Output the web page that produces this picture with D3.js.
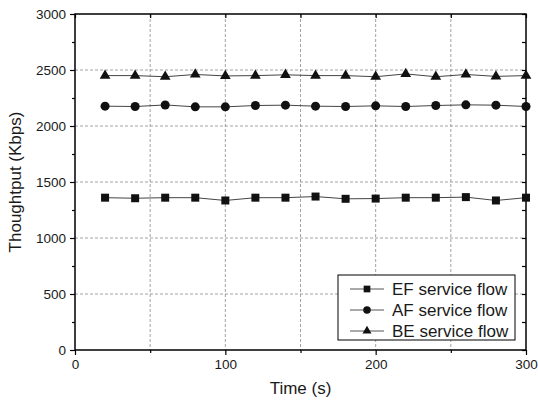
<!DOCTYPE html>
<html>
<head>
<meta charset="utf-8">
<script src="https://cdn.jsdelivr.net/npm/d3@7"></script>
<style>
  body { margin: 0; background: #fff; }
  text { font-family: "Liberation Sans", Arimo, Arial, Helvetica, sans-serif; }
</style>
</head>
<body>
<svg id="chart" width="538" height="406"></svg>
<script>
// sample times (s)
const times = [20, 40, 60, 80, 100, 120, 140, 160, 180, 200, 220, 240, 260, 280, 300];

// throughput per service flow (Kbps)
const efValues = [1360, 1355, 1360, 1360, 1335, 1360, 1360, 1370, 1350, 1352, 1360, 1360, 1365, 1335, 1360];
const afValues = [2177, 2174, 2188, 2171, 2171, 2183, 2186, 2177, 2174, 2180, 2174, 2183, 2189, 2186, 2174];
const beValues = [2450, 2450, 2440, 2460, 2447, 2450, 2457, 2450, 2450, 2440, 2465, 2440, 2460, 2443, 2450];

const seriesNames = ['EF service flow', 'AF service flow', 'BE service flow'];
const markerTypes = [d3.symbolSquare, d3.symbolCircle, d3.symbolTriangle];
const markerSizes = [64, 64, 50];

const xTicks = [0, 100, 200, 300];
const xMinor = [50, 150, 250];
const yTicks = [0, 500, 1000, 1500, 2000, 2500, 3000];
const yMinor = [250, 750, 1250, 1750, 2250, 2750];

const FONT = '"Liberation Sans", Arimo, Arial, Helvetica, sans-serif';

const margin = {left: 75, top: 14, right: 12, bottom: 56};
const width = 538 - margin.left - margin.right;
const height = 406 - margin.top - margin.bottom;

const svg = d3.select('#chart');
const g = svg.append('g').attr('transform', `translate(${margin.left},${margin.top})`);

const x = d3.scaleLinear().domain([0, 300]).range([0, width]);
const y = d3.scaleLinear().domain([0, 3000]).range([height, 0]);

// dashed grid
g.append('g').selectAll('line').data([50, 100, 150, 200, 250]).join('line')
  .attr('x1', d => x(d)).attr('x2', d => x(d)).attr('y1', 0).attr('y2', height)
  .attr('stroke', '#8a8a8a').attr('stroke-width', 0.8).attr('stroke-dasharray', '3,2');
g.append('g').selectAll('line').data([500, 1000, 1500, 2000, 2500]).join('line')
  .attr('x1', 0).attr('x2', width).attr('y1', d => y(d)).attr('y2', d => y(d))
  .attr('stroke', '#8a8a8a').attr('stroke-width', 0.8).attr('stroke-dasharray', '3,2');

// axes
function styleAxis(sel) {
  sel.attr('font-family', FONT);
  sel.select('.domain').remove();
  sel.selectAll('line').attr('stroke', '#000').attr('stroke-width', 1.2);
  sel.selectAll('text').attr('fill', '#1a1a1a').attr('font-size', 13.5);
}

g.append('g').attr('transform', `translate(0,${height})`)
  .call(d3.axisBottom(x).tickValues(xTicks).tickSize(5).tickPadding(4).tickFormat(d3.format('d')))
  .call(styleAxis);
g.append('g').attr('transform', `translate(0,${height})`)
  .call(d3.axisBottom(x).tickValues(xMinor).tickSize(3).tickFormat(''))
  .call(styleAxis);
g.append('g')
  .call(d3.axisLeft(y).tickValues(yTicks).tickSize(5).tickPadding(4).tickFormat(d3.format('d')))
  .call(styleAxis);
g.append('g')
  .call(d3.axisLeft(y).tickValues(yMinor).tickSize(3).tickFormat(''))
  .call(styleAxis);
g.append('g')
  .call(d3.axisTop(x).tickValues(xTicks.concat(xMinor)).tickSize(-4).tickFormat(''))
  .call(styleAxis);
g.append('g').attr('transform', `translate(${width},0)`)
  .call(d3.axisRight(y).tickValues(yTicks.concat(yMinor)).tickSize(-4).tickFormat(''))
  .call(styleAxis);

// frame
g.append('rect').attr('width', width).attr('height', height)
  .attr('fill', 'none').attr('stroke', '#000').attr('stroke-width', 1.5);

// series
const allSeries = [efValues, afValues, beValues];
const line = d3.line().x(d => x(d[0])).y(d => y(d[1]));

allSeries.forEach(function (vals, i) {
  let pts = times.map((t, j) => [t, vals[j]]);
  g.append('path').datum(pts)
    .attr('d', line).attr('fill', 'none')
    .attr('stroke', '#444').attr('stroke-width', 1);
  g.append('g').selectAll('path').data(pts).join('path')
    .attr('transform', d => `translate(${x(d[0])},${y(d[1])})`)
    .attr('d', d3.symbol().type(markerTypes[i]).size(markerSizes[i]))
    .attr('fill', '#111');
});

// legend
const lg = g.append('g').attr('transform', 'translate(263,261)');
lg.append('rect').attr('width', 177).attr('height', 65)
  .attr('fill', '#fff').attr('stroke', '#000').attr('stroke-width', 1);
seriesNames.forEach(function (name, i) {
  let row = lg.append('g').attr('transform', `translate(0,${14 + i * 21})`);
  row.append('line').attr('x1', 12).attr('x2', 46).attr('y1', 0).attr('y2', 0)
    .attr('stroke', '#555').attr('stroke-width', 1);
  row.append('path').attr('transform', 'translate(29,0)')
    .attr('d', d3.symbol().type(markerTypes[i]).size(markerSizes[i] * 0.7))
    .attr('fill', '#111');
  row.append('text').attr('x', 54).attr('y', 0).attr('dy', '0.35em')
    .attr('font-family', FONT).attr('font-size', 17).attr('fill', '#1a1a1a').text(name);
});

// axis titles
svg.append('text').attr('x', margin.left + width / 2).attr('y', 394)
  .attr('text-anchor', 'middle').attr('font-family', FONT)
  .attr('font-size', 17).attr('fill', '#1a1a1a')
  .text('Time (s)');
svg.append('text')
  .attr('transform', `translate(21,${margin.top + height / 2}) rotate(-90)`)
  .attr('text-anchor', 'middle').attr('font-family', FONT)
  .attr('font-size', 17).attr('fill', '#1a1a1a')
  .text('Thoughtput (Kbps)');
</script>
</body>
</html>
